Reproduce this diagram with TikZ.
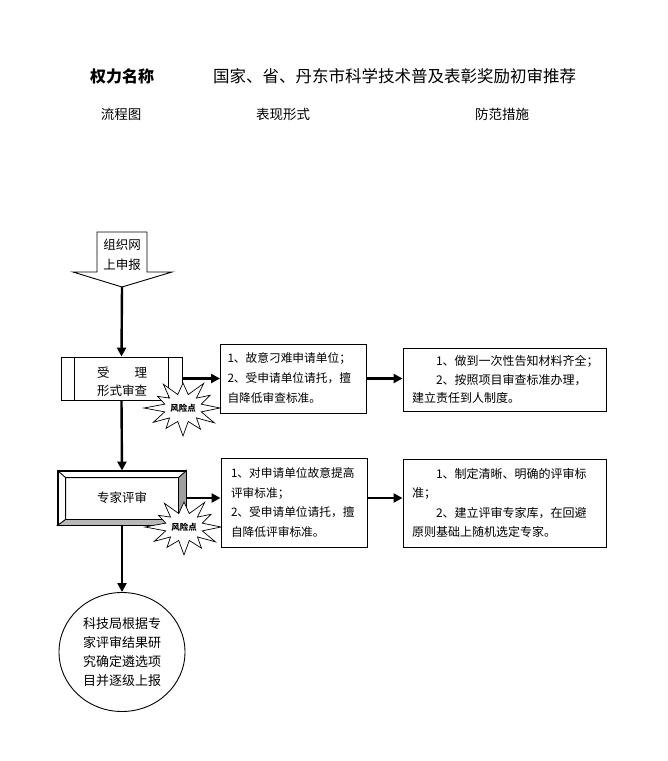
\documentclass[tikz,border=0pt]{standalone}
\usepackage{fontspec}
\setmainfont{Noto Sans CJK SC}
\usetikzlibrary{arrows.meta,shapes.geometric,calc}
\tikzset{
  txtbox/.style={draw, line width=0.9pt, fill=white, align=left, anchor=center},
  arr/.style={line width=2.4pt, -{Triangle[length=9pt,width=9pt]}},
  burstline/.style={draw, line width=0.7pt, fill=white},
  risk/.style={font=\fontsize{8.5}{10}\selectfont\bfseries, inner sep=0pt}
}
\newcommand\myburst{%
  (0:37pt and 28pt) -- (16:19pt and 14pt) -- (32:32pt and 24pt) -- (45:19pt and 14pt) --
  (58:39pt and 29pt) -- (74:19pt and 14pt) -- (90:33pt and 25pt) -- (106:19pt and 14pt) --
  (122:37pt and 28pt) -- (135:19pt and 14pt) -- (148:30pt and 22pt) -- (164:19pt and 14pt) --
  (180:39pt and 29pt) -- (196:19pt and 14pt) -- (212:35pt and 27pt) -- (225:19pt and 14pt) --
  (238:32pt and 24pt) -- (254:19pt and 14pt) -- (270:37pt and 28pt) -- (286:19pt and 14pt) --
  (302:33pt and 25pt) -- (315:19pt and 14pt) -- (328:37pt and 28pt) -- (344:19pt and 14pt) -- cycle}
\begin{document}
\begin{tikzpicture}[x=1pt,y=-1pt]
\fill[white] (0,0) rectangle (668,761);
\useasboundingbox (0,0) rectangle (668,761);

% titles
\node[font=\fontsize{16}{18}\selectfont\bfseries] (t1) at (122,76) {权力名称};
\node[font=\fontsize{16.5}{18}\selectfont, anchor=west, inner sep=0pt] (t2) at (213,76) {国家、省、丹东市科学技术普及表彰奖励初审推荐};
\node[font=\fontsize{13.5}{16}\selectfont] (h1) at (121,114) {流程图};
\node[font=\fontsize{13.5}{16}\selectfont] (h2) at (283,114) {表现形式};
\node[font=\fontsize{13.5}{16}\selectfont] (h3) at (502,114) {防范措施};

% start arrow shape
\draw[line width=0.9pt, fill=white] (97,232) -- (147,232) -- (147,272) -- (172,272) -- (122,287) -- (73,272) -- (97,272) -- cycle;
\coordinate (apex) at (122,287);
\node[align=center, font=\fontsize{12.5}{19.5}\selectfont] (start) at (122,255) {组织网\\上申报};

% predefined process box
\node[draw, line width=0.9pt, fill=white, minimum width=121pt, minimum height=43pt, inner sep=0pt] (p1) at (121.5,378.5) {};
\draw[line width=0.9pt] ($(p1.north west)+(14,0)$) -- ($(p1.south west)+(14,0)$)
                        ($(p1.north east)+(-14,0)$) -- ($(p1.south east)+(-14,0)$);
\node[align=center, font=\fontsize{12.5}{18}\selectfont] (p1t) at (122,382) {受\hspace{2em}理\\形式审查};

% row 1 boxes
\node[txtbox, minimum width=146pt, minimum height=69pt, text width=132pt, inner xsep=7pt,
      font=\fontsize{11.7}{20}\selectfont] (b1) at (293.5,378.5)
      {1、故意刁难申请单位；\\2、受申请单位请托，擅\\自降低审查标准。};
\node[txtbox, minimum width=203pt, minimum height=63pt, text width=185pt, inner xsep=9pt,
      font=\fontsize{12}{18.5}\selectfont] (b2) at (504.5,379.5)
      {\hspace*{2em}1、做到一次性告知材料齐全；\\\hspace*{2em}2、按照项目审查标准办理，\\建立责任到人制度。};

% bevel box
\node[draw, line width=0.9pt, fill=white, minimum width=128pt, minimum height=54pt, inner sep=0pt] (bev) at (122,498) {};
\coordinate (o1) at (bev.north west);
\coordinate (o2) at (bev.north east);
\coordinate (o3) at (bev.south east);
\coordinate (o4) at (bev.south west);
\coordinate (i1) at ($(o1)+(8,7)$);
\coordinate (i2) at ($(o2)+(-8,7)$);
\coordinate (i3) at ($(o3)+(-8,-6)$);
\coordinate (i4) at ($(o4)+(8,-6)$);
\filldraw[line width=0.9pt, fill=gray!75] (o2) -- (o3) -- (i3) -- (i2) -- cycle;
\filldraw[line width=0.9pt, fill=gray!55] (o4) -- (o3) -- (i3) -- (i4) -- cycle;
\draw[line width=0.9pt] (o1) -- (i1) (i1) rectangle (i3) (o1) rectangle (o3);
\node[font=\fontsize{12.5}{15}\selectfont] (bevt) at (bev.center) {专家评审};

% row 2 boxes
\node[txtbox, minimum width=146pt, minimum height=89pt, text width=126pt, inner xsep=10pt,
      font=\fontsize{11.7}{19.7}\selectfont] (b3) at (294,502.5)
      {1、对申请单位故意提高\\评审标准；\\2、受申请单位请托，擅\\自降低评审标准。};
\node[txtbox, minimum width=203pt, minimum height=88pt, text width=185pt, inner xsep=9pt,
      font=\fontsize{12}{19.5}\selectfont] (b4) at (504.5,503)
      {\hspace*{2em}1、制定清晰、明确的评审标\\准；\\\hspace*{2em}2、建立评审专家库，在回避\\原则基础上随机选定专家。};

% final ellipse
\node[draw, ellipse, line width=0.9pt, minimum width=126pt, minimum height=119pt, inner sep=0pt,
      align=center, font=\fontsize{13}{19}\selectfont] (circ) at (122,652)
      {科技局根据专\\家评审结果研\\究确定遴选项\\目并逐级上报};

% connectors
\draw[arr] (apex) -- (p1.north);
\draw[arr] (p1.south) -- (bev.north);
\draw[arr] (bev.south) -- (circ.north);
\draw[arr] (p1.east) -- (p1.east -| b1.west);
\draw[arr] (b1.east) -- (b1.east -| b2.west);
\draw[arr] (bev.east) -- (bev.east -| b3.west);
\draw[arr] (bev.east -| b3.east) -- (bev.east -| b4.west);

% risk bursts
\begin{scope}[shift={(183,408)}]
  \path[burstline] \myburst;
  \node[risk] (r1) at (0,0) {风险点};
\end{scope}
\begin{scope}[shift={(184,527)}]
  \path[burstline] \myburst;
  \node[risk] (r2) at (0,0) {风险点};
\end{scope}
\end{tikzpicture}
\end{document}
